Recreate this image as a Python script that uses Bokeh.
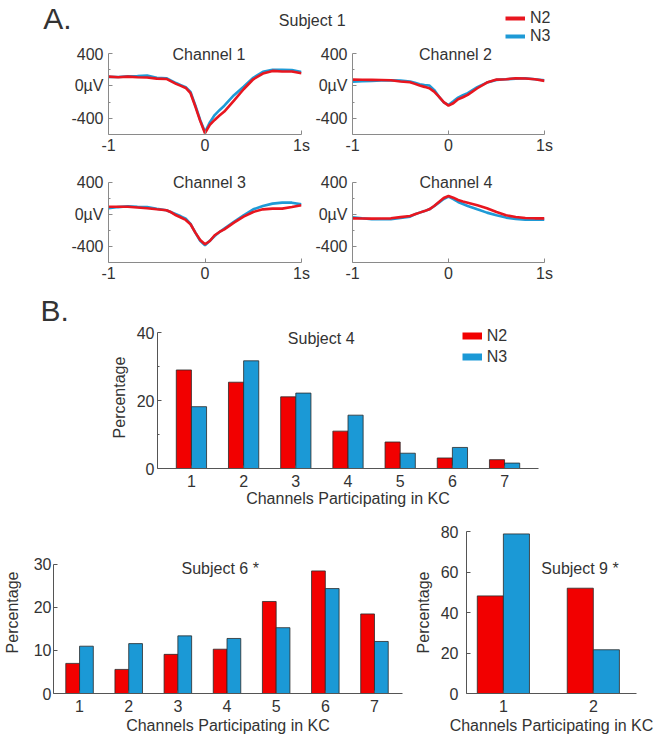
import math
from bokeh.plotting import figure
from bokeh.models import (Range1d, FixedTicker, Label, Legend, LegendItem, ColumnDataSource, Title)
from bokeh.transform import dodge
from bokeh.layouts import column, row
from bokeh.embed import file_html
from bokeh.resources import INLINE

FONT = "Liberation Sans"
TXT = "#333333"
AX_A = "#8a8a8a"
AX_B = "#555555"
RED_LINE = "#E8161F"
BLUE_LINE = "#1E9AD6"
RED_BAR = "#F20000"
BLUE_BAR = "#1B99D6"
EDGE = "#2a2a2a"

# ---------------- data: panel A (average KC waveforms, Subject 1) ----------------
t = [-1.0, -0.9, -0.8, -0.7, -0.6, -0.5, -0.4, -0.35, -0.3, -0.25, -0.2, -0.15, -0.1, -0.05,
     0.0, 0.05, 0.1, 0.15, 0.2, 0.3, 0.4, 0.5, 0.6, 0.7, 0.8, 0.9, 1.0]
ch1_n2 = [115, 107, 115, 107, 103, 90, 86, 55, 25, 0, -25, -90, -255, -432, -584, -481, -420, -366, -317, -181, -41, 82, 152, 185, 177, 177, 156]
ch1_n3 = [112, 110, 118, 122, 128, 100, 95, 65, 35, 10, -15, -75, -240, -420, -570, -450, -360, -300, -245, -115, -10, 100, 175, 200, 200, 195, 170]
ch2_n2 = [78, 76, 74, 72, 70, 55, 45, 25, 4, -12, -29, -70, -132, -200, -243, -214, -165, -140, -111, -29, 41, 78, 82, 95, 91, 82, 62]
ch2_n3 = [53, 58, 62, 66, 70, 65, 53, 40, 21, 12, 4, -49, -132, -202, -235, -190, -144, -115, -90, -16, 41, 74, 82, 90, 95, 82, 70]
ch3_n2 = [95, 95, 95, 85, 75, 62, 50, 25, -12, -40, -70, -124, -228, -320, -373, -332, -261, -220, -187, -104, -29, 29, 62, 71, 71, 91, 112]
ch3_n3 = [75, 90, 100, 95, 91, 70, 50, 25, 0, -25, -54, -120, -228, -330, -386, -330, -270, -220, -178, -95, -12, 62, 104, 133, 145, 145, 124]
ch4_n2 = [-50, -52, -54, -52, -50, -35, -21, 0, 21, 40, 62, 104, 154, 203, 228, 207, 178, 160, 145, 112, 75, 29, -12, -33, -46, -50, -50]
ch4_n3 = [-37, -50, -62, -62, -62, -45, -29, 0, 21, 40, 62, 100, 145, 190, 220, 190, 154, 128, 104, 62, 21, -12, -41, -58, -66, -66, -66]

# ---------------- data: panel B (channels participating in KC, %) ----------------
s4_channels = [1, 2, 3, 4, 5, 6, 7]
s4_n2 = [29.0, 25.4, 21.1, 11.0, 7.8, 3.1, 2.6]
s4_n3 = [18.2, 31.7, 22.2, 15.7, 4.5, 6.2, 1.6]
s6_channels = [1, 2, 3, 4, 5, 6, 7]
s6_n2 = [7.0, 5.6, 9.1, 10.3, 21.4, 28.5, 18.5]
s6_n3 = [11.0, 11.6, 13.4, 12.8, 15.3, 24.4, 12.1]
s9_channels = [1, 2]
s9_n2 = [48.2, 52.0]
s9_n3 = [78.8, 21.6]


def make_fig(w, h, bl, br, bt, bb, xr, yr, **kw):
    p = figure(width=w, height=h, x_range=Range1d(*xr), y_range=Range1d(*yr),
               output_backend="svg", toolbar_location=None, title=None,
               min_border_left=bl, min_border_right=br, min_border_top=bt, min_border_bottom=bb, **kw)
    p.outline_line_color = None
    p.grid.visible = False
    p.background_fill_color = "white"
    p.border_fill_color = "white"
    return p


def style_axis(a, color, ticks, minor, overrides, standoff, tick_in=4, bounds=None):
    a.ticker = FixedTicker(ticks=ticks, minor_ticks=minor)
    a.major_label_overrides = overrides
    if bounds is not None:
        a.bounds = bounds
    a.axis_line_color = color
    a.axis_line_width = 1
    a.major_tick_line_color = color
    a.minor_tick_line_color = color
    a.major_tick_in = tick_in
    a.major_tick_out = 0
    a.minor_tick_in = 2
    a.minor_tick_out = 0
    a.major_label_standoff = standoff
    a.major_label_text_font = FONT
    a.major_label_text_font_size = "16px"
    a.major_label_text_color = TXT


def axis_title(a, text, standoff):
    a.axis_label = text
    a.axis_label_standoff = standoff
    a.axis_label_text_font = FONT
    a.axis_label_text_font_size = "16px"
    a.axis_label_text_font_style = "normal"
    a.axis_label_text_color = TXT


def add_text(p, x, y, text, size="16px", angle=0.0, align="center"):
    p.add_layout(Label(x=x, y=y, x_units="screen", y_units="screen", text=text,
                       text_font=FONT, text_font_size=size, text_color=TXT,
                       text_align=align, text_baseline="middle", angle=angle))


def make_legend(items, loc, row_h, glyph_w=20):
    return Legend(items=items, location=loc, glyph_width=glyph_w, glyph_height=row_h,
                  label_height=row_h, label_width=20, spacing=0, padding=0, margin=0,
                  label_standoff=5, border_line_color=None, background_fill_alpha=0,
                  label_text_font=FONT, label_text_font_size="16px", label_text_color=TXT)


def channel_fig(w, h, bl, br, bt, bb, ytop, n2, n3, name, title_x, title_y):
    p = make_fig(w, h, bl, br, bt, bb, (-1, 1), (-600, ytop))
    src = ColumnDataSource(dict(t=t, n2=n2, n3=n3))
    p.line("t", "n3", source=src, line_color=BLUE_LINE, line_width=2.6)
    p.line("t", "n2", source=src, line_color=RED_LINE, line_width=2.6)
    style_axis(p.xaxis[0], AX_A, [-1, 0, 1], [], {-1: "-1", 0: "0", 1: "1s"}, 2)
    style_axis(p.yaxis[0], AX_A, [-400, 0, 400], [-200, 200],
               {-400: "-400", 0: "0\u00b5V", 400: "400"}, 5, bounds=(-600, 400))
    add_text(p, title_x, title_y, name)
    return p


def bar_fig(w, h, bl, br, bt, bb, xr, yr, ybounds, cats, n2, n3, yticks, yminor, ystand, bw):
    p = make_fig(w, h, bl, br, bt, bb, xr, yr)
    src = ColumnDataSource(dict(c=cats, n2=n2, n3=n3))
    p.vbar(x=dodge("c", -bw / 2), top="n2", width=bw, source=src,
           fill_color=RED_BAR, line_color=EDGE, line_width=0.8)
    p.vbar(x=dodge("c", bw / 2), top="n3", width=bw, source=src,
           fill_color=BLUE_BAR, line_color=EDGE, line_width=0.8)
    style_axis(p.xaxis[0], AX_B, cats, [], {c: str(c) for c in cats}, 6, tick_in=3)
    style_axis(p.yaxis[0], AX_B, yticks, yminor, {v: str(v) for v in yticks}, ystand, bounds=ybounds)
    return p


# ---------------- header (A., Subject 1, legend) ----------------
W = 654
header = make_fig(W, 45, 0, 0, 0, 0, (0, 1), (0, 1), x_axis_location=None, y_axis_location=None)
# legend keys: the series are drawn on an off-screen range so only their legend swatches show
header.extra_y_ranges = {"key": Range1d(5000, 5001)}
hsrc = ColumnDataSource(dict(t=t, n2=ch1_n2, n3=ch1_n3))
hr2 = header.line("t", "n2", source=hsrc, y_range_name="key", line_color=RED_LINE, line_width=4)
hr3 = header.line("t", "n3", source=hsrc, y_range_name="key", line_color=BLUE_LINE, line_width=4)
header.add_layout(make_legend([LegendItem(label="N2", renderers=[hr2]),
                               LegendItem(label="N3", renderers=[hr3])], (505, 0.5), 18))
add_text(header, 42.7, 27, "A.", size="30px", align="left")
add_text(header, 311.7, 25, "Subject 1")

ch1 = channel_fig(312, 113, 108, 11, 0, 24, 498.8, ch1_n2, ch1_n3, "Channel 1", 100.5, 80)
ch2 = channel_fig(342, 113, 40, 110, 0, 24, 498.8, ch2_n2, ch2_n3, "Channel 2", 103, 80)
ch3 = channel_fig(312, 132, 108, 11, 13, 28, 533, ch3_n2, ch3_n3, "Channel 3", 101, 80.3)
ch4 = channel_fig(342, 132, 40, 110, 13, 28, 533, ch4_n2, ch4_n3, "Channel 4", 103.5, 80.3)

# ---------------- Subject 4 ----------------
s4 = bar_fig(W, 226, 157, 116, 36, 48, (0.35, 7.65), (0, 41.8), (0, 40), s4_channels, s4_n2, s4_n3,
             [0, 20, 40], [10, 30], 3, 0.29)
s4.extra_y_ranges = {"key": Range1d(5000, 5001)}
s4src = ColumnDataSource(dict(c=s4_channels, n2=s4_n2, n3=s4_n3))
l2 = s4.line("c", "n2", source=s4src, y_range_name="key", line_color=RED_BAR, line_width=7)
l3 = s4.line("c", "n3", source=s4src, y_range_name="key", line_color=BLUE_BAR, line_width=7)
s4.add_layout(make_legend([LegendItem(label="N2", renderers=[l2]),
                           LegendItem(label="N3", renderers=[l3])], (304.7, 101.0), 21))
add_text(s4, 163.7, 130.3, "Subject 4")
axis_title(s4.yaxis[0], "Percentage", 6)
axis_title(s4.xaxis[0], "Channels Participating in KC", 0)
s4.add_layout(Title(text="B.", align="left", offset=40 - 157, standoff=0, text_font=FONT,
                    text_font_size="30px", text_font_style="normal", text_color=TXT), "above")

# ---------------- Subject 6 ----------------
s6 = bar_fig(408, 227, 52, 6, 15, 50, (0.47, 7.57), (0, 37.67), (0, 30), s6_channels, s6_n2, s6_n3,
             [0, 10, 20, 30], [], 2, 0.28)
add_text(s6, 166.7, 124.7, "Subject 6 *")
axis_title(s6.yaxis[0], "Percentage", 10)
axis_title(s6.xaxis[0], "Channels Participating in KC", 2)

# ---------------- Subject 9 ----------------
s9 = bar_fig(246, 227, 58, 18, 15, 50, (0.59, 2.48), (0, 80), (0, 80), s9_channels, s9_n2, s9_n3,
             [0, 20, 40, 60, 80], [], 8, 0.29)
add_text(s9, 113.5, 124.7, "Subject 9 *")
axis_title(s9.yaxis[0], "Percentage", 6)
axis_title(s9.xaxis[0], "Channels Participating in KC", 2)

layout = column(row(header), row(ch1, ch2), row(ch3, ch4), row(s4), row(s6, s9))

open("out.html", "w").write(file_html(layout, INLINE))
